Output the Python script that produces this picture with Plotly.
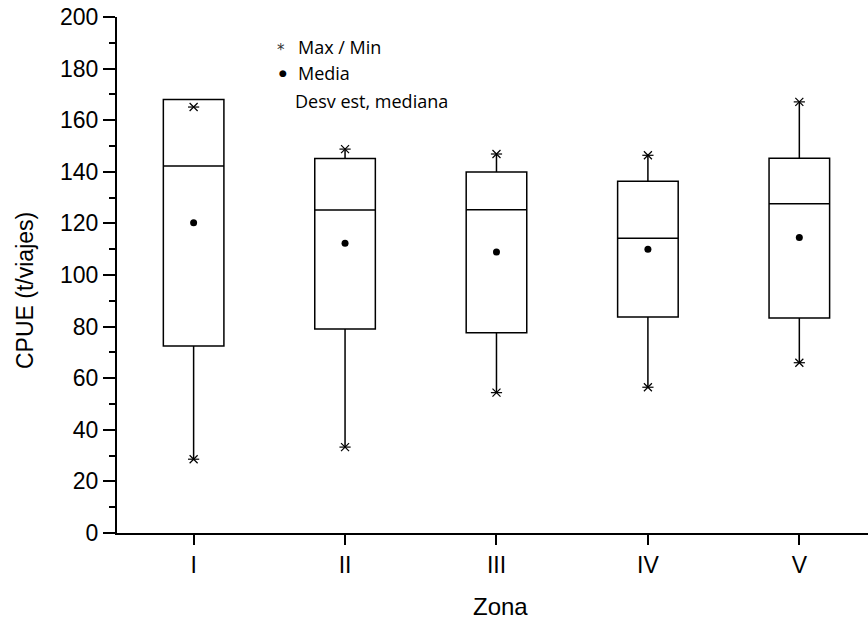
import plotly.graph_objects as go

zones = ["I", "II", "III", "IV", "V"]
pos = [1, 2, 3, 4, 5]
q1 = [72.5, 79.1, 77.6, 83.7, 83.3]
median = [142.2, 125.2, 125.3, 114.2, 127.6]
q3 = [168.0, 145.2, 139.9, 136.3, 145.3]
mean = [120.3, 112.3, 108.9, 110.0, 114.5]
vmax = [165.1, 148.8, 146.9, 146.4, 167.1]
vmin = [28.6, 33.3, 54.4, 56.5, 66.0]

upper = [max(a, b) for a, b in zip(vmax, q3)]

fig = go.Figure()
fig.add_trace(go.Box(
    x=pos, q1=q1, median=median, q3=q3, lowerfence=vmin, upperfence=upper,
    width=0.4, whiskerwidth=0, fillcolor="white",
    line=dict(color="black", width=1.5), boxpoints=False, hoverinfo="skip",
    showlegend=False,
))
# max/min stars (x + horizontal bar)
for sym in ["x-thin-open", "line-ew-open"]:
    fig.add_trace(go.Scatter(
        x=pos + pos, y=vmax + vmin, mode="markers",
        marker=dict(symbol=sym, size=8, line=dict(color="black", width=1.2), color="black"),
        showlegend=False, hoverinfo="skip",
    ))
fig.add_trace(go.Scatter(
    x=pos, y=mean, mode="markers",
    marker=dict(symbol="circle", size=7, color="black"),
    showlegend=False, hoverinfo="skip",
))

W, H = 868, 622
L, T, B = 117, 17, 89
pw, ph = W - L, H - T - B

def px(xp):
    return (xp - L) / pw

def py(yp):
    return (H - B - yp) / ph

leg_font = dict(family="Open Sans", size=18, color="black")
base = dict(xref="paper", yref="paper", showarrow=False, yanchor="middle")
ann = [
    dict(base, x=px(281), y=py(50), text="*", xanchor="center",
         font=dict(family="DejaVu Sans", size=15, color="#333")),
    dict(base, x=px(296), y=py(47), text="Max / Min", xanchor="left", font=leg_font),
    dict(base, x=px(283), y=py(73), text="●", xanchor="center",
         font=dict(family="DejaVu Sans", size=9, color="black")),
    dict(base, x=px(296), y=py(73), text="Media", xanchor="left", font=leg_font),
    dict(base, x=px(293), y=py(101), text="Desv est, mediana", xanchor="left", font=leg_font),
    dict(base, x=px(25), y=py(291), text="CPUE (t/viajes)", textangle=-90, xanchor="center",
         font=dict(family="Liberation Sans", size=23, color="black")),
    dict(base, x=px(500), y=py(606), text="Zona", xanchor="center",
         font=dict(family="Liberation Sans", size=24, color="black")),
]

fig.update_layout(
    width=W, height=H,
    margin=dict(l=L, r=0, t=T, b=B),
    plot_bgcolor="white", paper_bgcolor="white",
    annotations=ann,
    xaxis=dict(
        range=[0.494, 1 + (868 - 193.3) / 151.5],
        tickvals=pos, ticktext=zones,
        ticks="outside", ticklen=10, tickwidth=2, tickcolor="black",
        showline=True, linecolor="black", linewidth=2,
        showgrid=False, zeroline=False,
        tickfont=dict(family="Liberation Sans", size=23, color="black"),
    ),
    yaxis=dict(
        range=[0, 200], tickvals=list(range(0, 201, 20)),
        ticks="outside", ticklen=12, tickwidth=2, tickcolor="black",
        minor=dict(tickvals=list(range(10, 200, 20)), ticks="outside", ticklen=6, tickwidth=2, tickcolor="black"),
        showline=True, linecolor="black", linewidth=2,
        showgrid=False, zeroline=False,
        tickfont=dict(family="Liberation Sans", size=23, color="black"),
    ),
)

fig.write_html("out.html")
